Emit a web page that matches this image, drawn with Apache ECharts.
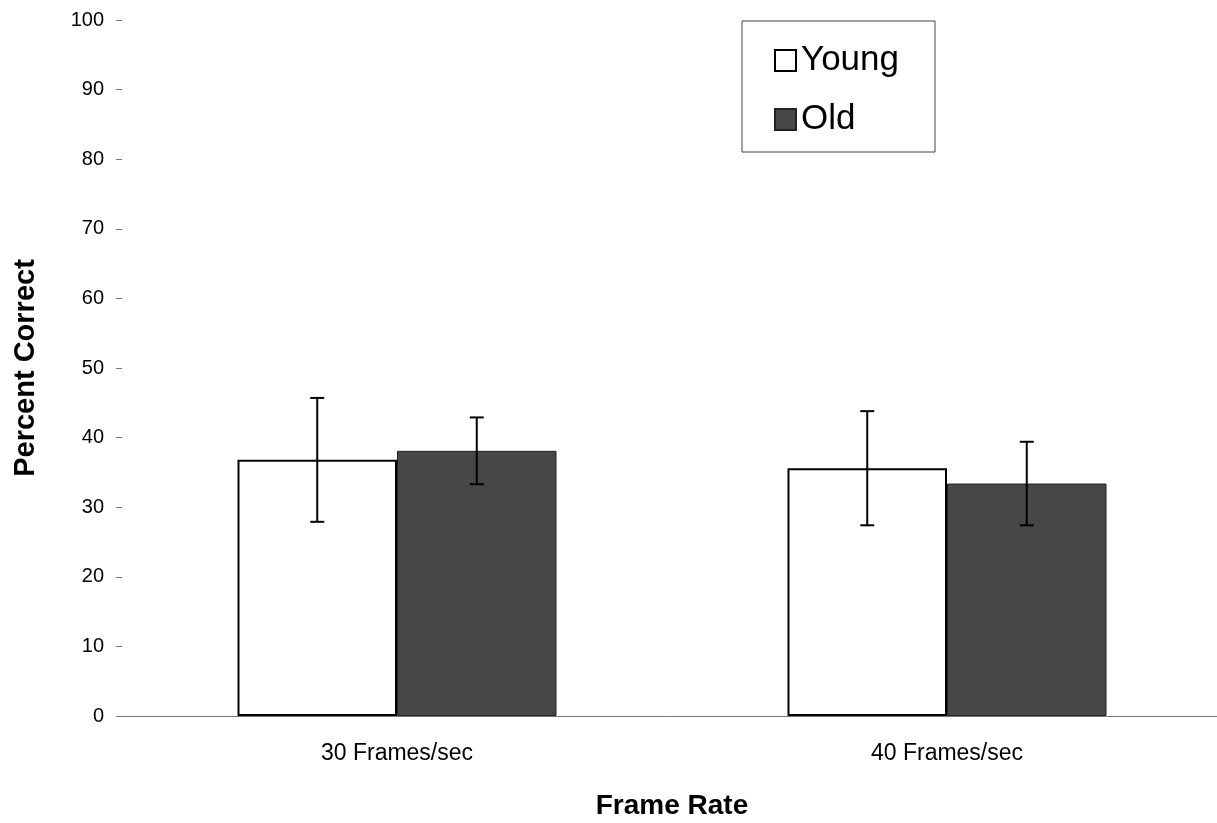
<!DOCTYPE html>
<html>
<head>
<meta charset="utf-8">
<script src="https://cdn.jsdelivr.net/npm/echarts@6/dist/echarts.min.js"></script>
<style>html,body{margin:0;padding:0;background:#fff}#c{width:1217px;height:823px}</style>
</head>
<body>
<div id="c"></div>
<script>
const categories = ['30 Frames/sec', '40 Frames/sec'];
const seriesNames = ['Young', 'Old'];
const youngValues = [36.8, 35.6];
const oldValues = [38.1, 33.4];
const youngErrors = [8.9, 8.2];
const oldErrors = [4.8, 6.0];
const yTicks = [0, 10, 20, 30, 40, 50, 60, 70, 80, 90, 100];

const FONT = '"Liberation Sans", Arial, sans-serif';
const gapPct = 42;

function errorSeries(name, values, errors, side) {
  const data = values.map((v, i) => [i, v - errors[i], v + errors[i]]);
  return {
    type: 'custom',
    name: name + ' err',
    z: 10,
    silent: true,
    data: data,
    encode: { x: 0, y: [1, 2] },
    renderItem: function (params, api) {
      const idx = api.value(0);
      const band = api.size([1, 0])[0];
      const bw = band * (1 - gapPct / 100) / 2;
      const off = side * bw / 2;
      const lo = api.coord([idx, api.value(1)]);
      const hi = api.coord([idx, api.value(2)]);
      const x = lo[0] + off;
      const cap = 7;
      const st = { stroke: '#000', lineWidth: 2 };
      return {
        type: 'group',
        children: [
          { type: 'line', shape: { x1: x, y1: lo[1], x2: x, y2: hi[1] }, style: st },
          { type: 'line', shape: { x1: x - cap, y1: lo[1], x2: x + cap, y2: lo[1] }, style: st },
          { type: 'line', shape: { x1: x - cap, y1: hi[1], x2: x + cap, y2: hi[1] }, style: st }
        ]
      };
    }
  };
}

const chart = echarts.init(document.getElementById('c'));
chart.setOption({
  animation: false,
  backgroundColor: '#fff',
  textStyle: { fontFamily: FONT },
  grid: { left: 122, top: 20, width: 1100, height: 696, outerBoundsMode: 'none', containLabel: false },
  legend: {
    data: seriesNames,
    orient: 'vertical',
    left: 742,
    top: 21,
    padding: [22, 36, 15, 32],
    itemGap: 24,
    itemWidth: 21,
    itemHeight: 21,
    icon: 'rect',
    borderColor: '#444',
    borderWidth: 1,
    textStyle: { fontSize: 35, color: '#000', fontFamily: FONT }
  },
  xAxis: {
    type: 'category',
    data: categories,
    name: 'Frame Rate',
    nameLocation: 'middle',
    nameGap: 76,
    nameTextStyle: { fontSize: 28, fontWeight: 'bold', color: '#000', fontFamily: FONT },
    axisLine: { lineStyle: { color: '#777', width: 1 } },
    axisTick: { show: false },
    axisLabel: { fontSize: 23, color: '#000', margin: 26, fontFamily: FONT }
  },
  yAxis: {
    type: 'value',
    min: yTicks[0],
    max: yTicks[yTicks.length - 1],
    interval: 10,
    name: 'Percent Correct',
    nameLocation: 'middle',
    nameGap: 82,
    nameTextStyle: { fontSize: 29, fontWeight: 'bold', color: '#000', fontFamily: FONT },
    axisLine: { show: false },
    axisTick: { show: true, length: 6, lineStyle: { color: '#777' } },
    splitLine: { show: false },
    axisLabel: { fontSize: 20, color: '#000', margin: 18, fontFamily: FONT }
  },
  series: [
    {
      name: 'Young', type: 'bar', data: youngValues,
      barGap: '0%', barCategoryGap: gapPct + '%',
      itemStyle: { color: '#fff', borderColor: '#000', borderWidth: 2 }
    },
    {
      name: 'Old', type: 'bar', data: oldValues,
      barGap: '0%', barCategoryGap: gapPct + '%',
      itemStyle: { color: '#474747', borderColor: '#222', borderWidth: 1 }
    },
    errorSeries('Young', youngValues, youngErrors, -1),
    errorSeries('Old', oldValues, oldErrors, 1)
  ]
});
</script>
</body>
</html>
